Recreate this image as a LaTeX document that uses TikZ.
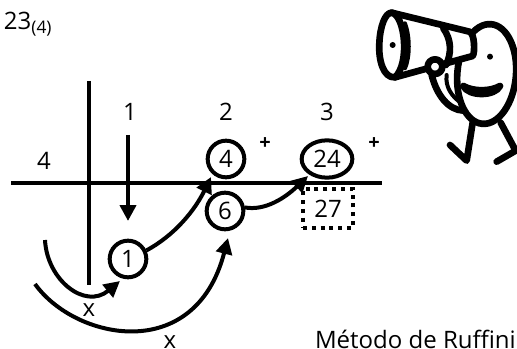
\documentclass[tikz,border=0pt]{standalone}
\usepackage{fontspec}
\setmainfont{Open Sans}
\usetikzlibrary{arrows.meta,shapes.geometric}
\tikzset{
  x=0.75pt,y=-0.75pt,
  txt/.style={inner sep=0pt,font=\fontsize{18}{20}\selectfont,text=black},
  small/.style={inner sep=0pt,font=\fontsize{15}{16}\selectfont\bfseries,text=black},
  ring/.style={draw=black,line width=3pt,circle,minimum size=27.5pt,inner sep=0pt,font=\fontsize{18}{20}\selectfont},
  ringwide/.style={draw=black,line width=3pt,ellipse,minimum width=38pt,minimum height=28pt,inner sep=0pt,font=\fontsize{18}{20}\selectfont},
  dotbox/.style={draw=black,line width=3pt,dash pattern=on 3pt off 3.6pt,minimum width=37.5pt,minimum height=29pt,inner sep=0pt,font=\fontsize{18}{20}\selectfont},
  bar/.style={line width=3pt,draw=black},
  conn/.style={line width=3pt,draw=black,-{Triangle[length=12pt,width=12pt]}},
  ink/.style={line width=5pt,draw=black,line join=round,line cap=round},
}
\begin{document}
\begin{tikzpicture}
\useasboundingbox (0,0) rectangle (517,349);
\clip (0,0) rectangle (517,349);
% texts
\node[txt,anchor=base west] (num) at (-10,30) {123\raisebox{-3pt}{\fontsize{13}{14}\selectfont(4)}};
\node[txt] (c1) at (130,112) {1};
\node[txt] (c2) at (226,112) {2};
\node[txt] (c3) at (327,112) {3};
\node[txt] (d) at (44,161) {4};
\node[small] (p1) at (265,144) {+};
\node[small] (p2) at (374,144) {+};
\node[txt] (x1) at (89,310) {x};
\node[txt] (x2) at (170,342) {x};
\node[txt,anchor=base east] (ruf) at (516,348) {Método de Ruffini};
% result nodes
\node[ring] (n4) at (226,159) {4};
\node[ring] (n6) at (225,211) {6};
\node[ring] (n1) at (128,259) {1};
\node[ringwide] (n24) at (327,159) {24};
\node[dotbox] (n27) at (328,208.5) {27};
% bars
\coordinate (hl) at (11,183); \coordinate (hr) at (382,183);
\coordinate (vt) at (89,81); \coordinate (vb) at (89,285);
\draw[bar] (hl) -- (hr);
\draw[bar] (vt) -- (vb);
% arrows
\coordinate (a0) at (128,135); \coordinate (a1) at (128,221);
\draw[conn] (a0) -- (a1);
\coordinate (t4) at (211,177);
\draw[conn] (n1.25) .. controls (175,235) and (195,210) .. (t4);
\coordinate (t24) at (308,176);
\draw[conn] (n6.10) .. controls (265,211) and (285,198) .. (t24);
\coordinate (s1) at (45,240); \coordinate (t1) at (120,281);
\draw[conn] (s1) .. controls (47,280) and (85,310) .. (t1);
\coordinate (s2) at (35,284); \coordinate (t6) at (228,238);
\draw[conn] (s2) .. controls (75,340) and (195,365) .. (t6);
% figure
\begin{scope}[shift={(340,0)},x=0.25pt,y=-0.25pt]
  \draw[ink,rotate around={-5:(440,222)}] (440,222) ellipse [x radius=88,y radius=150];
  \filldraw[ink,fill=white] (155,38) -- (388,95) .. controls (405,100) and (405,160) .. (398,168) -- (165,232) .. controls (130,235) and (115,180) .. (118,130) .. controls (120,80) and (135,38) .. (155,38) -- cycle;
  \draw[ink] (155,38) .. controls (195,45) and (210,190) .. (165,232);
  \draw[ink,line width=3pt] (195,70) .. controls (210,110) and (210,170) .. (195,205);
  \draw[ink] (310,85) .. controls (335,120) and (335,160) .. (318,195);
  \filldraw[ink,fill=white] (285,200) circle [radius=22];
  \draw[ink] (275,225) .. controls (290,285) and (325,330) .. (370,332);
  \draw[ink,line width=3pt] (320,225) .. controls (315,260) and (335,290) .. (365,310);
  \fill[black] (158,135) circle [radius=9];
  \fill[black] (450,170) circle [radius=9];
  \filldraw[ink] (370,258) .. controls (400,275) and (450,275) .. (480,258) .. controls (465,290) and (385,290) .. (370,258) -- cycle;
  \draw[ink] (398,368) -- (380,482) -- (330,435);
  \draw[ink] (482,368) -- (527,452) -- (470,485);
\end{scope}
\end{tikzpicture}
\end{document}
